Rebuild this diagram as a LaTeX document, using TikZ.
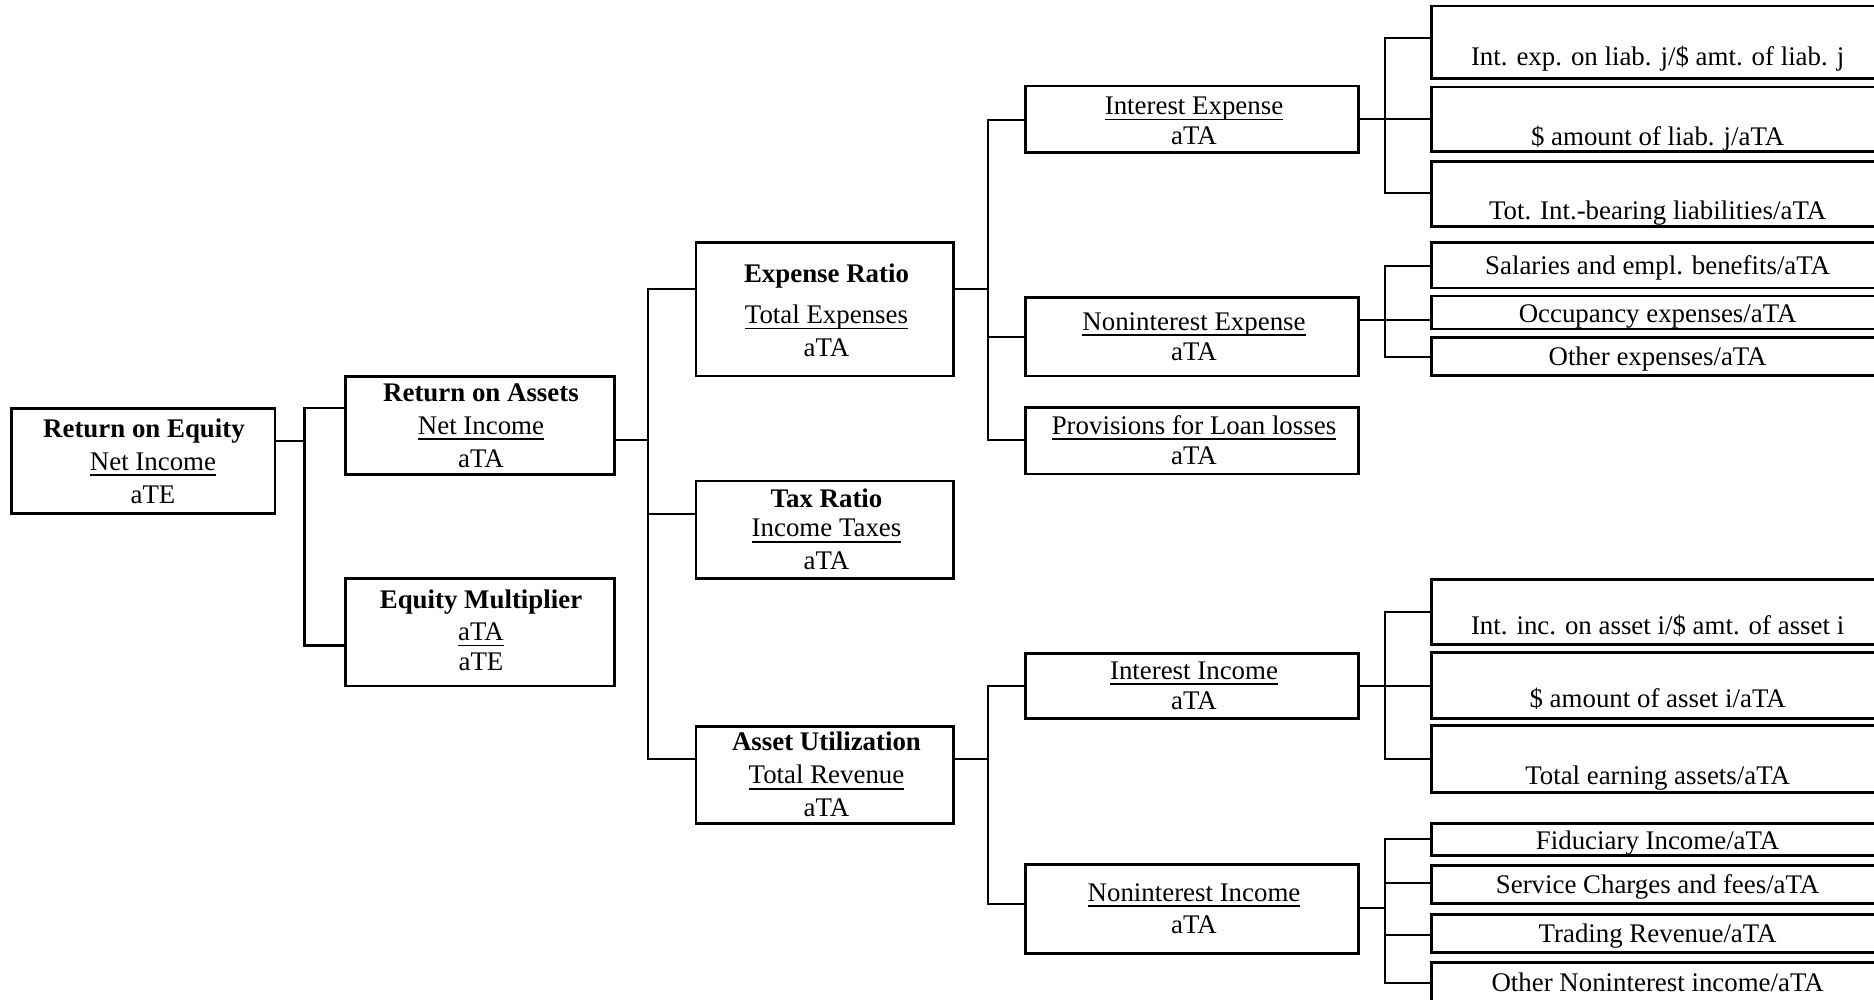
\documentclass[tikz,border=0pt]{standalone}
\usepackage{fontspec}
\setmainfont{Liberation Serif}
\newsavebox\ulbox
\newcommand\ulx[1]{\sbox\ulbox{#1}\rlap{\vrule height -1.6pt depth 2.3pt width \wd\ulbox}\usebox\ulbox}
\tikzset{
 boxst/.style={draw, line width=1.15pt, inner sep=0pt, outer sep=0pt, rectangle},
 txt/.style={anchor=base, inner sep=0pt, font=\fontsize{10.75pt}{12.9pt}\selectfont},
 ttl/.style={anchor=base, inner sep=0pt, font=\fontsize{10.75pt}{12.9pt}\selectfont\bfseries},
 conn/.style={line width=0.95pt},
}
\newcommand\bx[5]{\node[boxst, minimum width={(#4-#2)*0.4pt}, minimum height={(#5-#3)*0.4pt}] (#1) at ({(#2+#4)/2},{(#3+#5)/2}) {};}
\newcommand\cn[5]{\draw[conn] (#1.east |- 0,#2) -| (#3,#5) -- (#4.west |- 0,#5);}
\begin{document}
\begin{tikzpicture}[x=0.4pt,y=-0.4pt]
\useasboundingbox (0,0) rectangle (1874,1000);
% boxes
\bx{roe}{11.7}{408.3}{275}{513.3}
\bx{roa}{345.4}{376.5}{614.8}{474.5}
\bx{em}{345.4}{578.3}{614.8}{686}
\bx{er}{696}{242.3}{953.3}{376}
\bx{tax}{696}{481}{953.3}{578.3}
\bx{au}{696}{726.7}{953.3}{823.3}
\bx{ie}{1025.7}{86}{1358.9}{152.3}
\bx{nie}{1025.7}{297.3}{1358.9}{376}
\bx{prov}{1025.7}{407.7}{1358.9}{474}
\bx{ii}{1025.7}{653.3}{1358.9}{718.3}
\bx{nii}{1025.7}{864.3}{1358.9}{953.3}
\bx{r1}{1431.7}{6}{1881}{78.7}
\bx{r2}{1431.7}{87}{1881}{151.7}
\bx{r3}{1431.7}{161.7}{1881}{226.7}
\bx{r4}{1431.7}{242.7}{1881}{288}
\bx{r5}{1431.7}{296}{1881}{329}
\bx{r6}{1431.7}{337.3}{1881}{375.7}
\bx{r7}{1431.7}{579.6}{1881}{644.5}
\bx{r8}{1431.7}{652.7}{1881}{718.3}
\bx{r9}{1431.7}{725.7}{1881}{792.3}
\bx{r10}{1431.7}{823.3}{1881}{855.7}
\bx{r11}{1431.7}{865.7}{1881}{903.3}
\bx{r12}{1431.7}{914.3}{1881}{952.3}
\bx{r13}{1431.7}{962.7}{1881}{1012}
% texts
\node[ttl] (roe1) at (144,437) {Return on Equity};
\node[txt] (roe2) at (153,470) {\ulx{Net Income}};
\node[txt] (roe3) at (153,503) {aTE};
\node[ttl] (roa1) at (481,401.5) {Return on Assets};
\node[txt] (roa2) at (481,434) {\ulx{Net Income}};
\node[txt] (roa3) at (481,467) {aTA};
\node[ttl] (em1) at (481,608) {Equity Multiplier};
\node[txt] (em2) at (481,640.5) {\ulx{aTA}};
\node[txt] (em3) at (481,670) {aTE};
\node[ttl] (er1) at (826.5,282.5) {Expense Ratio};
\node[txt] (er2) at (826.5,323.5) {\ulx{Total Expenses}};
\node[txt] (er3) at (826.5,356.5) {aTA};
\node[ttl] (tax1) at (826.5,507.8) {Tax Ratio};
\node[txt] (tax2) at (826.5,536.8) {\ulx{Income Taxes}};
\node[txt] (tax3) at (826.5,569.4) {aTA};
\node[ttl] (au1) at (826.5,750.8) {Asset Utilization};
\node[txt] (au2) at (826.5,783.8) {\ulx{Total Revenue}};
\node[txt] (au3) at (826.5,816.8) {aTA};
\node[txt] (ie1) at (1194,114.7) {\ulx{Interest Expense}};
\node[txt] (ie2) at (1194,144.5) {aTA};
\node[txt] (nie1) at (1194,330) {\ulx{Noninterest Expense}};
\node[txt] (nie2) at (1194,360) {aTA};
\node[txt] (prov1) at (1194,434) {\ulx{Provisions for Loan losses}};
\node[txt] (prov2) at (1194,464) {aTA};
\node[txt] (ii1) at (1194,679) {\ulx{Interest Income}};
\node[txt] (ii2) at (1194,709) {aTA};
\node[txt] (nii1) at (1194,901) {\ulx{Noninterest Income}};
\node[txt] (nii2) at (1194,933) {aTA};
\node[txt] (r1t) at (1657.6,66) {Int. exp. on liab. j/\$ amt. of liab. j};
\node[txt] (r2t) at (1657.6,145) {\$ amount of liab. j/aTA};
\node[txt] (r3t) at (1657.6,219) {Tot. Int.-bearing liabilities/aTA};
\node[txt] (r4t) at (1657.6,274.4) {Salaries and empl. benefits/aTA};
\node[txt] (r5t) at (1657.6,322) {Occupancy expenses/aTA};
\node[txt] (r6t) at (1657.6,365.4) {Other expenses/aTA};
\node[txt] (r7t) at (1657.6,634) {Int. inc. on asset i/\$ amt. of asset i};
\node[txt] (r8t) at (1657.6,707.7) {\$ amount of asset i/aTA};
\node[txt] (r9t) at (1657.6,784) {Total earning assets/aTA};
\node[txt] (r10t) at (1657.6,849) {Fiduciary Income/aTA};
\node[txt] (r11t) at (1657.6,893) {Service Charges and fees/aTA};
\node[txt] (r12t) at (1657.6,942) {Trading Revenue/aTA};
\node[txt] (r13t) at (1657.6,991.6) {Other Noninterest income/aTA};
% connectors
\cn{roe}{441}{304.5}{roa}{408}
\cn{roe}{441}{304.5}{em}{645.5}
\cn{roa}{440}{648.3}{er}{289}
\cn{roa}{440}{648.3}{tax}{514.3}
\cn{roa}{440}{648.3}{au}{759.3}
\cn{er}{289}{988.3}{ie}{120}
\cn{er}{289}{988.3}{nie}{337.3}
\cn{er}{289}{988.3}{prov}{440}
\cn{au}{759.3}{988.3}{ii}{685.7}
\cn{au}{759.3}{988.3}{nii}{904.3}
\cn{ie}{119}{1385}{r1}{37.7}
\cn{ie}{119}{1385}{r2}{119}
\cn{ie}{119}{1385}{r3}{193}
\cn{nie}{320}{1385}{r4}{265.7}
\cn{nie}{320}{1385}{r5}{320}
\cn{nie}{320}{1385}{r6}{356.7}
\cn{ii}{686}{1385}{r7}{612}
\cn{ii}{686}{1385}{r8}{686}
\cn{ii}{686}{1385}{r9}{759}
\cn{nii}{908.3}{1385}{r10}{839}
\cn{nii}{908.3}{1385}{r11}{883.3}
\cn{nii}{908.3}{1385}{r12}{935}
\cn{nii}{908.3}{1385}{r13}{982.7}
\end{tikzpicture}
\end{document}
